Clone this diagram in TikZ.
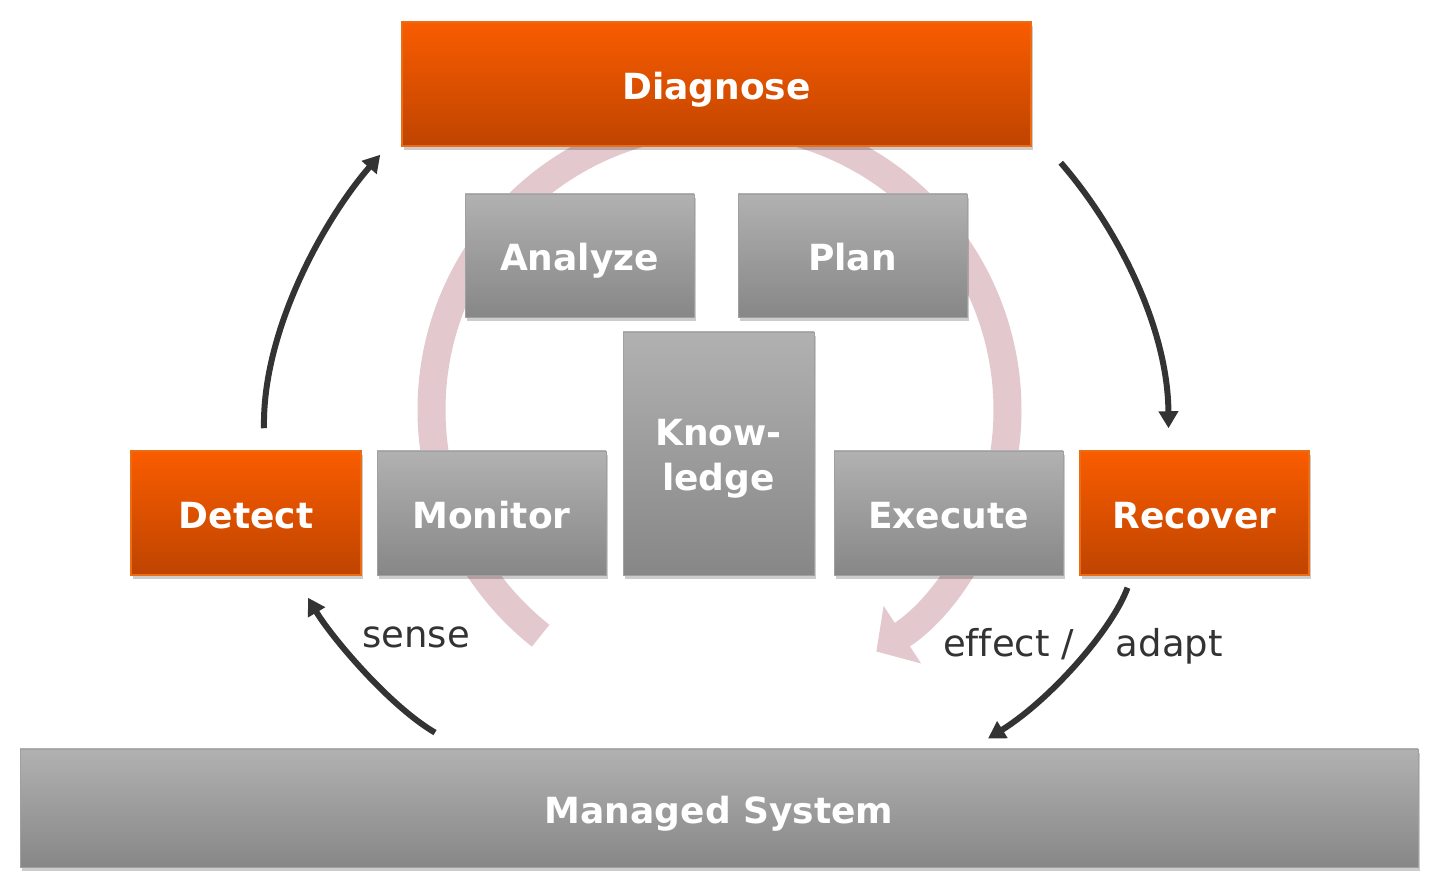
\documentclass[tikz,border=0pt]{standalone}
\usepackage{fontspec}
\setmainfont[Ligatures=NoCommon]{DejaVu Sans}
\usetikzlibrary{arrows.meta,shadows}
\definecolor{orTop}{RGB}{249,92,0}
\definecolor{orBot}{RGB}{191,68,0}
\definecolor{orEdge}{RGB}{236,108,20}
\definecolor{grTop}{RGB}{177,177,177}
\definecolor{grBot}{RGB}{135,135,135}
\definecolor{grEdge}{RGB}{160,160,160}
\definecolor{pinkarc}{RGB}{227,201,205}
\definecolor{darkarrow}{RGB}{51,51,51}
\definecolor{labeltext}{RGB}{51,51,51}
\tikzset{
  boxbase/.style={rectangle, inner sep=0pt, text=white,
    font=\fontsize{36}{45}\selectfont\bfseries, align=center,
    drop shadow={shadow xshift=2pt, shadow yshift=-4pt, opacity=0.2, fill=black}},
  oneline/.style={text height=31pt, text depth=0pt},
  orbox/.style={boxbase, top color=orTop, bottom color=orBot, draw=orEdge, line width=1.5pt},
  grbox/.style={boxbase, top color=grTop, bottom color=grBot, draw=grEdge, line width=0.8pt},
  flow/.style={draw=darkarrow, line width=6pt, -{Triangle[length=17pt,width=19pt]}},
  cyclearrow/.style={draw=pinkarc, line width=28pt, -{Triangle[length=31pt,width=67pt]}},
  lbl/.style={text=labeltext, font=\fontsize{37}{44}\selectfont, inner sep=0pt}
}
\begin{document}
\begin{tikzpicture}[x=1pt,y=1pt]
\fill[white] (0,0) rectangle (1440,891);
\useasboundingbox (0,0) rectangle (1440,891);

% pink MAPE-K cycle arrow
\draw[cyclearrow] (719.5,481) ++(231.6:288) arc[start angle=231.6, end angle=-57, radius=288];

% boxes
\node[orbox, oneline, minimum width=629pt, minimum height=124pt] (diag) at (716.5,807) {Diagnose};
\node[grbox, oneline, minimum width=229pt, minimum height=123pt] (ana) at (579.5,635.5) {Analyze};
\node[grbox, oneline, minimum width=229pt, minimum height=123pt] (plan) at (852.5,635.5) {Plan};
\node[grbox, minimum width=191pt, minimum height=243pt] (know) at (718.5,437.5) {};
\node[text=white, font=\fontsize{36}{45}\selectfont\bfseries, align=center, inner sep=0pt] (knowtext) at ([yshift=-5pt]know.center) {Know-\\ledge};
\node[orbox, oneline, minimum width=230pt, minimum height=124pt] (det) at (246,378) {Detect};
\node[grbox, oneline, minimum width=229pt, minimum height=124pt] (mon) at (491.5,378) {Monitor};
\node[grbox, oneline, minimum width=229pt, minimum height=124pt] (exe) at (948.5,378) {Execute};
\node[orbox, oneline, minimum width=229pt, minimum height=124pt] (rec) at (1194.5,378) {Recover};
\node[grbox, oneline, minimum width=1398pt, minimum height=118pt] (ms) at (719,83) {Managed System};

% connector end points
\coordinate (detOut) at ([shift={(18pt,22pt)}]det.north);
\coordinate (diagIn) at ([shift={(-21pt,-8pt)}]diag.south west);
\coordinate (diagOut) at ([shift={(29pt,-16pt)}]diag.south east);
\coordinate (recIn) at ([shift={(-26pt,22pt)}]rec.north);
\coordinate (recOut) at ([shift={(-67pt,-12pt)}]rec.south);
\coordinate (msIn) at ([shift={(269pt,10pt)}]ms.north);
\coordinate (msOut) at ([shift={(-284pt,16pt)}]ms.north);
\coordinate (detIn) at ([shift={(62pt,-22pt)}]det.south);

% flow arrows
\draw[flow] (detOut) .. controls (262,561) and (325,673) .. (diagIn);
\draw[flow] (diagOut) .. controls (1120,660) and (1168,561) .. (recIn);
\draw[flow] (recOut) .. controls (1112,261) and (1050,191) .. (msIn);
\draw[flow] (msOut) .. controls (388,186) and (330,256) .. (detIn);

% labels
\node[lbl] (sense) at (416,254) {sense};
\node[lbl, anchor=base west] (effect) at (943,234) {effect /\hspace{42pt}adapt};
\end{tikzpicture}
\end{document}
